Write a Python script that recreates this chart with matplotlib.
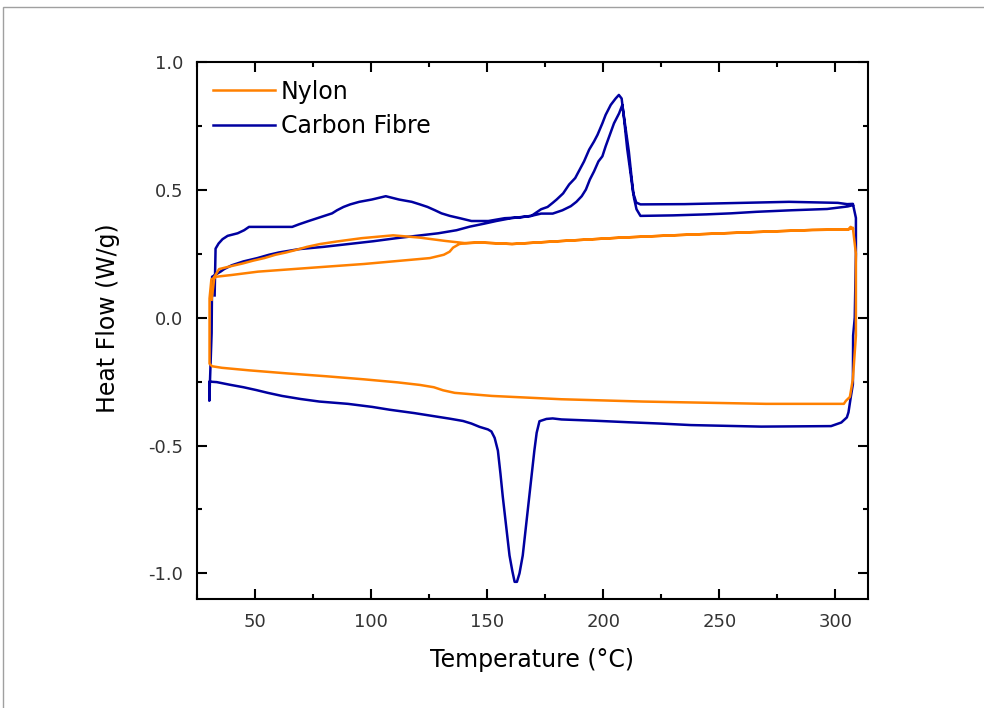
import matplotlib
matplotlib.use("Agg")
import matplotlib.pyplot as plt
from matplotlib.patches import Rectangle
from matplotlib.ticker import MultipleLocator
import numpy as np

# Nylon: first heat, cooling, second heat (temperature in degC, heat flow in W/g)
ny_heat1_T = [31.3, 32.5, 34.5, 39.0, 44.7, 49.2, 54.0, 58.8, 63.4, 67.7, 72.4, 78.0, 85.3, 96.0,
              109.5, 121.0, 132.0, 141.0, 146.7, 160.7, 182.5, 207.5, 232.4, 260.0, 290.0, 305.5,
              306.5, 307.5]
ny_heat1_hf = [0.07, 0.16, 0.19, 0.2, 0.212, 0.223, 0.233, 0.246, 0.255, 0.265, 0.277, 0.288, 0.298,
               0.311, 0.322, 0.313, 0.30, 0.291, 0.294, 0.288, 0.30, 0.313, 0.323, 0.333, 0.343,
               0.345, 0.355, 0.35]

ny_cool_T = [308.8, 308.8, 307.5, 306.2, 304.5, 303.6, 270.0, 217.0, 182.0, 152.0, 136.0, 131.0,
             127.0, 121.0, 111.4, 96.8, 80.5, 64.0, 47.5, 35.7, 31.5, 30.4]
ny_cool_hf = [0.25, -0.07, -0.24, -0.31, -0.325, -0.337, -0.337, -0.328, -0.319, -0.306, -0.294,
              -0.284, -0.272, -0.263, -0.253, -0.241, -0.229, -0.218, -0.206, -0.196, -0.19, -0.18]

ny_heat2_T = [30.4, 31.2, 33.2, 40.0, 51.3, 66.4, 81.6, 97.0, 113.0, 125.3, 131.3, 133.8, 135.3,
              138.0, 141.0, 146.7, 160.7, 182.5, 207.5, 232.4, 260.0, 290.0, 305.5, 307.5]
ny_heat2_hf = [0.075, 0.15, 0.16, 0.167, 0.18, 0.19, 0.2, 0.21, 0.223, 0.233, 0.246, 0.258, 0.274,
               0.288, 0.292, 0.294, 0.288, 0.30, 0.313, 0.323, 0.333, 0.343, 0.345, 0.35]

# Carbon fibre
cf_heat1_T = [32.6, 33.0, 34.3, 36.0, 38.2, 42.5, 45.3, 47.4, 56.0, 66.0, 68.9, 73.1, 79.1, 83.2,
              85.3, 88.1, 91.0, 94.9, 100.3, 106.3, 112.0, 117.5, 121.0, 124.3, 127.5, 130.3, 133.9,
              138.2, 143.2, 150.5, 157.5, 164.0, 169.0, 173.2, 176.0, 178.2, 179.9, 182.7, 185.3,
              187.9, 189.6, 191.7, 193.9, 196.0, 197.5, 199.6, 201.0, 203.2, 205.3, 206.7, 207.9,
              208.9, 210.3, 211.8, 212.8, 214.2, 216.0, 235.0, 256.0, 280.0, 301.0, 305.0, 307.5]
cf_heat1_hf = [0.087, 0.27, 0.29, 0.307, 0.32, 0.33, 0.342, 0.355, 0.355, 0.355, 0.365, 0.378,
               0.396, 0.408, 0.42, 0.433, 0.443, 0.453, 0.462, 0.475, 0.462, 0.453, 0.443, 0.433,
               0.42, 0.408, 0.398, 0.389, 0.378, 0.378, 0.389, 0.392, 0.398, 0.424, 0.433, 0.449,
               0.462, 0.486, 0.521, 0.546, 0.575, 0.611, 0.657, 0.689, 0.715, 0.760, 0.793, 0.832,
               0.857, 0.871, 0.857, 0.78, 0.66, 0.56, 0.49, 0.45, 0.443, 0.444, 0.448, 0.453, 0.449,
               0.444, 0.445]

cf_cool_T = [308.8, 308.8, 308.3, 307.6, 307.5, 306.6, 305.6, 304.9, 302.5, 298.1, 268.0, 237.7,
             224.4, 211.0, 196.4, 182.0, 178.2, 175.5, 172.5, 171.3, 170.3, 169.2, 167.9, 166.5,
             165.3, 163.9, 162.8, 161.8, 160.8, 159.6, 158.2, 156.7, 155.7, 154.6, 153.2, 151.8,
             150.3, 146.7, 143.2, 139.6, 133.9, 127.0, 118.5, 108.0, 100.5, 90.0, 77.7, 69.6, 61.6,
             55.5, 50.5, 45.0, 39.0, 33.5, 30.3, 30.3]
cf_cool_hf = [0.39, 0.25, 0.0, -0.07, -0.26, -0.31, -0.37, -0.39, -0.41, -0.424, -0.426, -0.42,
              -0.414, -0.409, -0.403, -0.398, -0.394, -0.396, -0.405, -0.45, -0.52, -0.61, -0.72,
              -0.83, -0.93, -1.00, -1.033, -1.033, -0.99, -0.93, -0.82, -0.70, -0.61, -0.52, -0.47,
              -0.445, -0.437, -0.427, -0.414, -0.404, -0.395, -0.385, -0.373, -0.36, -0.349,
              -0.337, -0.328, -0.318, -0.306, -0.294, -0.283, -0.272, -0.262, -0.252, -0.25, -0.325]

cf_heat2_T = [30.3, 31.3, 31.5, 33.5, 35.3, 36.7, 40.0, 45.0, 51.0, 56.0, 60.3, 68.9, 79.6, 90.3,
              101.0, 111.0, 120.3, 128.9, 136.8, 142.5, 148.9, 153.9, 160.3, 168.9, 173.2, 178.2,
              182.4, 186.0, 188.4, 190.7, 192.5, 194.2, 196.0, 197.9, 199.6, 201.0, 202.8, 204.6,
              206.8, 208.2, 209.6, 211.0, 212.2, 213.2, 214.3, 216.0, 230.0, 244.5, 255.0, 266.0,
              281.0, 296.4, 301.0, 305.3, 307.5]
cf_heat2_hf = [-0.325, -0.06, 0.16, 0.171, 0.181, 0.19, 0.205, 0.22, 0.233, 0.246, 0.255, 0.268,
               0.277, 0.288, 0.299, 0.311, 0.321, 0.33, 0.342, 0.356, 0.368, 0.378, 0.389, 0.398,
               0.407, 0.407, 0.42, 0.436, 0.453, 0.475, 0.501, 0.54, 0.572, 0.611, 0.631, 0.67,
               0.715, 0.76, 0.799, 0.832, 0.741, 0.65, 0.546, 0.469, 0.424, 0.398, 0.40, 0.404,
               0.408, 0.414, 0.42, 0.425, 0.43, 0.435, 0.44]

NYLON_COLOR = "#ff8000"
CF_COLOR = "#0000a0"

plt.rcParams["font.family"] = ["DejaVu Sans"]

fig = plt.figure(figsize=(9.84, 7.08), dpi=100)
ax = fig.add_axes([0.2002, 0.154, 0.6819, 0.7585])

# light grey frame around the whole figure (runs off the right and bottom edges)
fig.patches.append(Rectangle((3 / 984, -0.05), 1.1, 1.05 - 7 / 708, transform=fig.transFigure,
                             fill=False, edgecolor="#a0a0a0", lw=1.0))

nylon_T = np.concatenate([ny_heat1_T, ny_cool_T, ny_heat2_T])
nylon_hf = np.concatenate([ny_heat1_hf, ny_cool_hf, ny_heat2_hf])
cf_T = np.concatenate([cf_heat1_T, cf_cool_T, cf_heat2_T])
cf_hf = np.concatenate([cf_heat1_hf, cf_cool_hf, cf_heat2_hf])

ax.plot(nylon_T, nylon_hf, color=NYLON_COLOR, lw=1.8, label="Nylon", zorder=3)
ax.plot(cf_T, cf_hf, color=CF_COLOR, lw=1.8, label="Carbon Fibre", zorder=2)

ax.set_xlim(25, 314)
ax.set_ylim(-1.1, 1.0)
ax.xaxis.set_major_locator(MultipleLocator(50))
ax.xaxis.set_minor_locator(MultipleLocator(25))
ax.yaxis.set_major_locator(MultipleLocator(0.5))
ax.yaxis.set_minor_locator(MultipleLocator(0.25))
ax.yaxis.set_major_formatter(matplotlib.ticker.FormatStrFormatter("%.1f"))

ax.tick_params(which="both", direction="in", top=True, right=True, width=1.5,
               labelsize=13, labelcolor="#333333")
ax.tick_params(which="major", length=7, pad=10)
ax.tick_params(which="minor", length=3.5)
for sp in ax.spines.values():
    sp.set_linewidth(1.5)

ax.set_xlabel("Temperature (°C)", fontsize=17)
ax.set_ylabel("Heat Flow (W/g)", fontsize=17)
ax.xaxis.set_label_coords(0.5, -0.092)
ax.yaxis.set_label_coords(-0.115, 0.523)

ax.legend(loc="upper left", bbox_to_anchor=(0.0245, 0.967), frameon=False, fontsize=17,
          handlelength=2.6, handletextpad=0.25, labelspacing=0.44, borderpad=0,
          borderaxespad=0)

fig.savefig("out.png", dpi=100)
